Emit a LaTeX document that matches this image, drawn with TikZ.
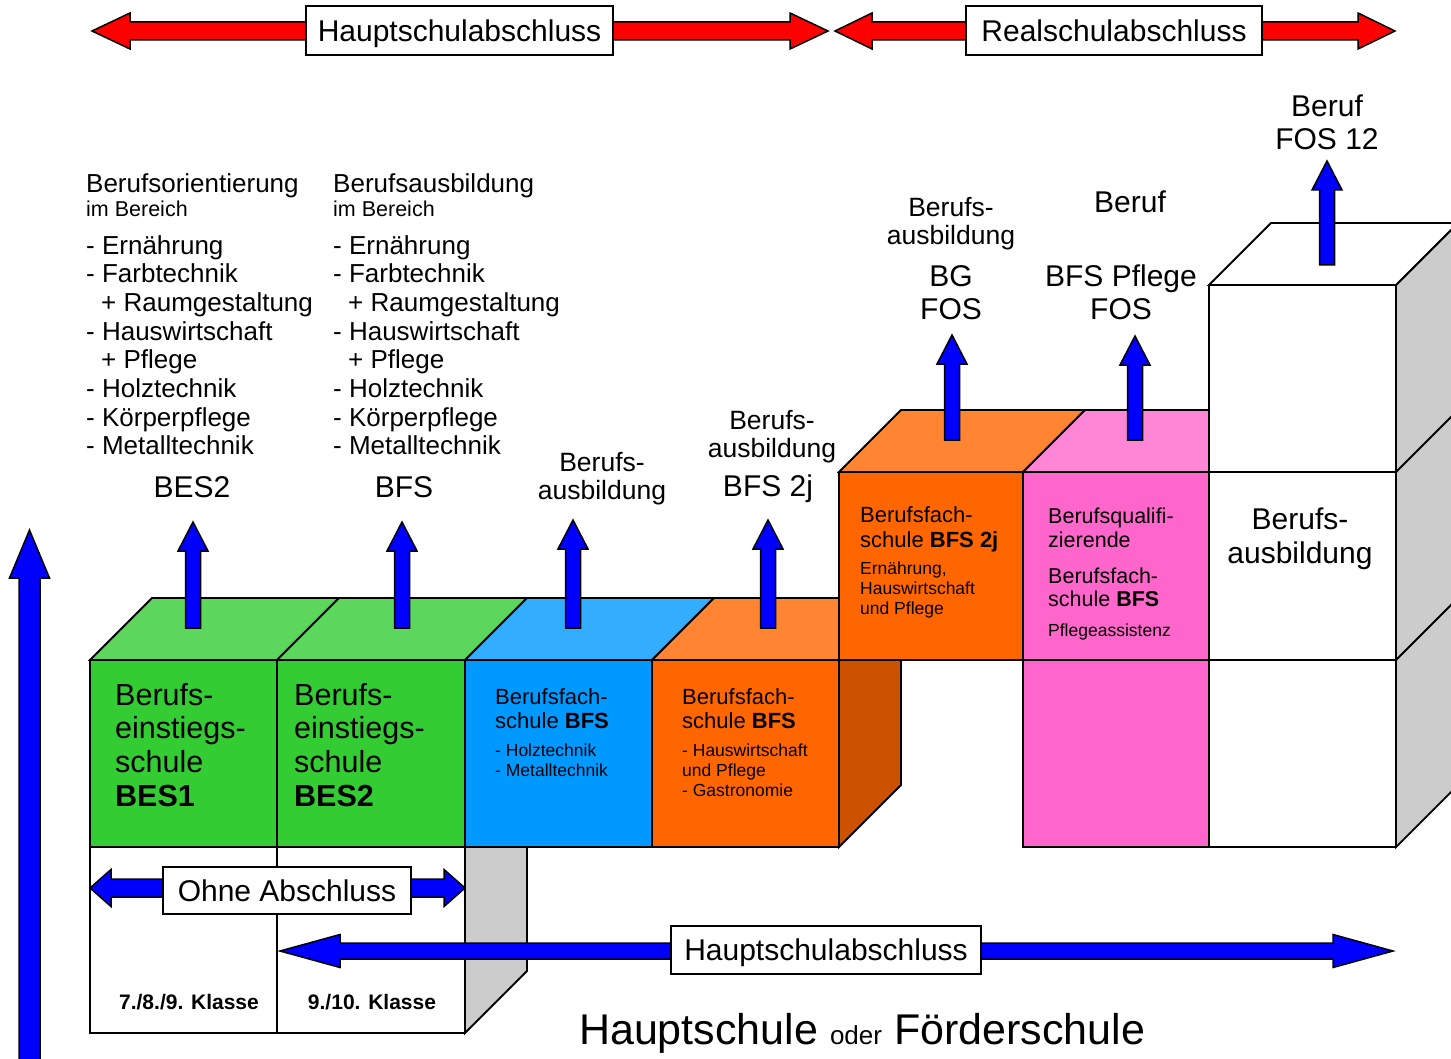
\documentclass[tikz,border=0pt]{standalone}
\usepackage{fontspec}
\setmainfont{Liberation Sans}

\definecolor{grfront}{HTML}{33CC33}
\definecolor{grtop}{HTML}{5CD65C}
\definecolor{blfront}{HTML}{0099FF}
\definecolor{bltop}{HTML}{33ADFF}
\definecolor{orfront}{HTML}{FF6600}
\definecolor{ortop}{HTML}{FF8533}
\definecolor{orside}{HTML}{CC5200}
\definecolor{pkfront}{HTML}{FF66CC}
\definecolor{pktop}{HTML}{FF85D6}
\definecolor{sidegray}{HTML}{CCCCCC}
\definecolor{arrblue}{HTML}{0000FF}
\definecolor{arrred}{HTML}{FF0000}

\tikzset{
  face/.style={draw=black, line width=1.8pt, line join=miter},
  fat/.style={draw=black, line width=1.5pt, line join=miter},
  labelbox/.style={draw=black, fill=white, line width=1.8pt, inner sep=0pt,
    text height=21.6pt, text depth=0pt, font=\fontsize{30}{36}\selectfont},
  headtxt/.style={anchor=north west, inner sep=0pt, font=\fontsize{26}{30}\selectfont},
  subtxt/.style={anchor=north west, inner sep=0pt, font=\fontsize{21.5}{24}\selectfont},
  listtxt/.style={anchor=north west, inner sep=0pt, align=left,
    font=\fontsize{26}{28.7}\selectfont},
  goal/.style={inner sep=0pt, align=center, font=\fontsize{26.5}{28}\selectfont},
  biggoal/.style={inner sep=0pt, align=center, font=\fontsize{30}{33}\selectfont},
  bestxt/.style={anchor=north west, inner sep=0pt, align=left,
    font=\fontsize{30.5}{33.7}\selectfont},
  schooltxt/.style={anchor=north west, inner sep=0pt, align=left,
    font=\fontsize{22}{24}\selectfont},
  itemtxt/.style={anchor=north west, inner sep=0pt, align=left,
    font=\fontsize{17.5}{20}\selectfont},
  classtxt/.style={inner sep=0pt, font=\fontsize{21}{24}\selectfont\bfseries}
}

% fat vertical arrow: x, base y, tip y, half shaft, half head, head length, colour
\newcommand{\fatvert}[7]{%
  \draw[fat, fill=#7] (#1-#4,#2) -- (#1-#4,#3+#6) -- (#1-#5,#3+#6) -- (#1,#3)
    -- (#1+#5,#3+#6) -- (#1+#4,#3+#6) -- (#1+#4,#2) -- cycle;}
% fat double arrow: left tip x, right tip x, y, half shaft, half head, head length, colour
\newcommand{\fathoriz}[7]{%
  \draw[fat, fill=#7] (#1,#3) -- (#1+#6,#3-#5) -- (#1+#6,#3-#4) -- (#2-#6,#3-#4)
    -- (#2-#6,#3-#5) -- (#2,#3) -- (#2-#6,#3+#5) -- (#2-#6,#3+#4)
    -- (#1+#6,#3+#4) -- (#1+#6,#3+#5) -- cycle;}

\begin{document}
\begin{tikzpicture}[x=1pt,y=-1pt]
  \useasboundingbox (0,0) rectangle (1451,1059);
  \clip (0,0) rectangle (1451,1059);
  \def\dep{62}

  % classes below the BES blocks
  \draw[face, fill=sidegray] (465,847) -- (527,847) -- (527,971) -- (465,1033) -- cycle;
  \draw[face, fill=white] (90,847) rectangle (277,1033);
  \draw[face, fill=white] (277,847) rectangle (465,1033);

  % front row of blocks
  \foreach \xa/\xb/\ft/\tp in {90/277/grfront/grtop, 277/465/grfront/grtop,
      465/652/blfront/bltop, 652/839/orfront/ortop} {
    \draw[face, fill=\tp] (\xa,660) -- (\xa+\dep,660-\dep) -- (\xb+\dep,660-\dep) -- (\xb,660) -- cycle;
    \draw[face, fill=\ft] (\xa,660) rectangle (\xb,847);
  }
  \draw[face, fill=orside] (839,660) -- (901,598) -- (901,785) -- (839,847) -- cycle;
  \draw[face, fill=pkfront] (1023,660) rectangle (1209,847);

  % upper row
  \draw[face, fill=ortop] (839,472) -- (901,410) -- (1085,410) -- (1023,472) -- cycle;
  \draw[face, fill=orfront] (839,472) rectangle (1023,660);
  \draw[face, fill=pktop] (1023,472) -- (1085,410) -- (1271,410) -- (1209,472) -- cycle;
  \draw[face, fill=pkfront] (1023,472) rectangle (1209,660);

  % white tower
  \draw[face, fill=sidegray] (1396,285) -- (1458,223) -- (1458,785) -- (1396,847) -- cycle;
  \draw[face] (1396,472) -- (1458,410) (1396,660) -- (1458,598);
  \draw[face, fill=white] (1209,285) -- (1271,223) -- (1458,223) -- (1396,285) -- cycle;
  \foreach \ya/\yb in {285/472, 472/660, 660/847}
    \draw[face, fill=white] (1209,\ya) rectangle (1396,\yb);

  % arrows up
  \foreach \x/\b/\t in {193/628/522, 402/628/522, 573/628/520, 768/628/520,
      952/440/335, 1135/440/336, 1327/265/161}
    \fatvert{\x}{\b}{\t}{7.5}{15}{29}{arrblue};
  \fatvert{29.5}{1070}{530}{10.5}{20}{48}{arrblue};

  % Abschluss arrows
  \fathoriz{92}{828}{31}{9}{18}{38}{arrred};
  \fathoriz{835}{1395}{31}{9}{18}{37}{arrred};
  \fathoriz{90}{465}{888}{9}{18.5}{21}{arrblue};
  \fathoriz{280}{1393}{951}{8}{16.5}{60}{arrblue};
  \node[labelbox, minimum width=307pt, minimum height=49pt] (hsatop) at (459.5,30.5) {Hauptschulabschluss};
  \node[labelbox, minimum width=296pt, minimum height=49pt] (rsatop) at (1114,30.5) {Realschulabschluss};
  \node[labelbox, minimum width=248pt, minimum height=47pt] (ohne) at (287,890.5) {Ohne Abschluss};
  \node[labelbox, minimum width=310pt, minimum height=48pt] (hsabot) at (826,950) {Hauptschulabschluss};

  % fields above BES2 and BFS
  \node[headtxt] (orihead) at (86,173) {Berufsorientierung};
  \node[subtxt] (orisub) at (86,201) {im Bereich};
  \node[listtxt] (orilist) at (86,235) {- Ernährung\\- Farbtechnik\\
    \hspace*{15pt}+ Raumgestaltung\\- Hauswirtschaft\\\hspace*{15pt}+ Pflege\\
    - Holztechnik\\- Körperpflege\\- Metalltechnik};
  \node[headtxt] (ausbhead) at (333,173) {Berufsausbildung};
  \node[subtxt] (ausbsub) at (333,201) {im Bereich};
  \node[listtxt] (ausblist) at (333,235) {- Ernährung\\- Farbtechnik\\
    \hspace*{15pt}+ Raumgestaltung\\- Hauswirtschaft\\\hspace*{15pt}+ Pflege\\
    - Holztechnik\\- Körperpflege\\- Metalltechnik};

  % goals
  \node[biggoal] (gbes2) at (192,487) {BES2};
  \node[biggoal] (gbfs) at (404,487) {BFS};
  \node[goal] (gausb1) at (602,479) {Berufs-\\ausbildung};
  \node[goal] (gausb2) at (772,437) {Berufs-\\ausbildung};
  \node[biggoal] (gbfs2j) at (768,489) {BFS 2j};
  \node[goal] (gausb3) at (951,224) {Berufs-\\ausbildung};
  \node[biggoal] (gbgfos) at (951,293) {BG\\FOS};
  \node[biggoal] (gberuf) at (1130,202) {Beruf};
  \node[biggoal] (gpflege) at (1121,292) {BFS Pflege\\FOS};
  \node[biggoal] (gfos12) at (1327,122) {Beruf\\FOS 12};
  \node[biggoal, font=\fontsize{30}{34}\selectfont] (towerausb) at (1300,539) {Berufs-\\ausbildung};

  % school blocks
  \node[bestxt] (bes1) at (115,683) {Berufs-\\einstiegs-\\schule\\\textbf{BES1}};
  \node[bestxt] (bes2) at (294,683) {Berufs-\\einstiegs-\\schule\\\textbf{BES2}};
  \node[schooltxt] (bfsblue) at (495,688) {Berufsfach-\\schule \textbf{BFS}};
  \node[itemtxt] (bfsbluei) at (495,743.5) {- Holztechnik\\- Metalltechnik};
  \node[schooltxt] (bfsor) at (682,688) {Berufsfach-\\schule \textbf{BFS}};
  \node[itemtxt] (bfsori) at (682,743.5) {- Hauswirtschaft\\und Pflege\\- Gastronomie};
  \node[schooltxt, font=\fontsize{22}{25}\selectfont] (bfs2j) at (860,506) {Berufsfach-\\schule \textbf{BFS 2j}};
  \node[itemtxt] (bfs2ji) at (860,561.5) {Ernährung,\\Hauswirtschaft\\und Pflege};
  \node[schooltxt, font=\fontsize{21.5}{24}\selectfont] (bqual) at (1048,508) {Berufsqualifi-\\zierende};
  \node[schooltxt, font=\fontsize{21.5}{23}\selectfont] (bqbfs) at (1048,568) {Berufsfach-\\schule \textbf{BFS}};
  \node[itemtxt] (bqi) at (1048,623.5) {Pflegeassistenz};

  % classes
  \node[classtxt] (kl789) at (189,1002) {7./8./9. Klasse};
  \node[classtxt] (kl910) at (372,1002) {9./10. Klasse};
  \node[inner sep=0pt, font=\fontsize{43}{48}\selectfont] (schulart) at (862,1033)
    {Hauptschule {\fontsize{26}{30}\selectfont oder} Förderschule};
\end{tikzpicture}
\end{document}
